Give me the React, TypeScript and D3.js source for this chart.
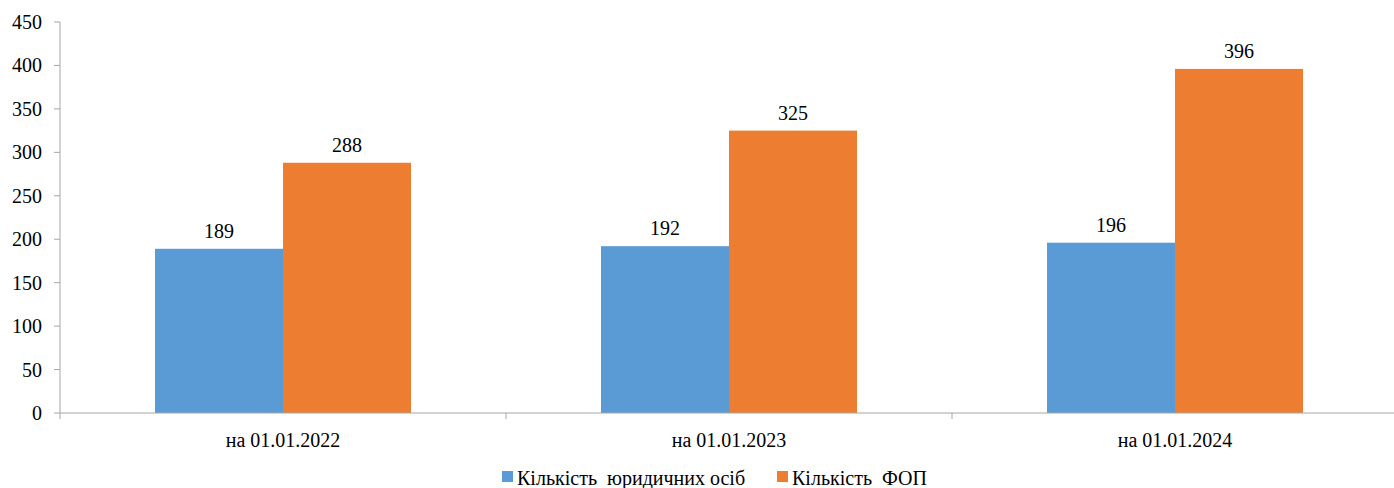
import React from 'react';
import * as d3 from 'd3';

const categories = ['на 01.01.2022', 'на 01.01.2023', 'на 01.01.2024'];
const seriesNames = ['Кількість  юридичних осіб', 'Кількість  ФОП'];
const legalEntities = [189, 192, 196];
const individuals = [288, 325, 396];
const yTicks = [0, 50, 100, 150, 200, 250, 300, 350, 400, 450];
const colors = ['#5B9BD5', '#ED7D31'];

const W = 1394;
const H = 488;
const font = "'Liberation Serif', 'Times New Roman', serif";
const fs = 20;

const App: React.FC = () => {
  const x = d3.scaleBand<string>().domain(categories).range([60, 1398]);
  const y = d3.scaleLinear().domain([0, 450]).range([413, 22]);
  const barW = 128;
  const series = [legalEntities, individuals];
  const axisColor = '#A6A6A6';

  return (
    <svg width={W} height={H} style={{ position: 'absolute', left: 0, top: 0, fontFamily: font }}>
      {/* y axis */}
      <line x1={60} x2={60} y1={y(450)} y2={y(0)} stroke={axisColor} />
      {yTicks.map(t => (
        <g key={t}>
          <line x1={54} x2={60} y1={y(t)} y2={y(t)} stroke={axisColor} />
          <text x={42} y={y(t) + 7} textAnchor="end" style={{ fontFamily: font }} fontSize={fs} fill="#000">{t}</text>
        </g>
      ))}

      {/* bars */}
      {categories.map((c, i) => {
        const cx = (x(c) ?? 0) + x.bandwidth() / 2;
        return series.map((s, j) => {
          const bx = cx - barW + j * barW;
          return (
            <g key={c + j}>
              <rect x={bx} y={y(s[i])} width={barW} height={y(0) - y(s[i])} fill={colors[j]} />
              <text x={bx + barW / 2} y={y(s[i]) - 11} textAnchor="middle" style={{ fontFamily: font }} fontSize={fs} fill="#000">{s[i]}</text>
            </g>
          );
        });
      })}

      {/* x axis */}
      <line x1={60} x2={1398} y1={y(0)} y2={y(0)} stroke={axisColor} />
      {[...categories.map(c => x(c) ?? 0), 1398].map((t, i) => (
        <line key={i} x1={t} x2={t} y1={y(0)} y2={y(0) + 6} stroke={axisColor} />
      ))}
      {categories.map(c => (
        <text key={c} x={(x(c) ?? 0) + x.bandwidth() / 2} y={447} textAnchor="middle" style={{ fontFamily: font }} fontSize={fs} fill="#000">{c}</text>
      ))}

      {/* legend */}
      {seriesNames.map((n, j) => {
        const lx = j === 0 ? 502 : 777;
        return (
          <g key={n}>
            <rect x={lx} y={471} width={11} height={11} fill={colors[j]} />
            <text x={lx + 15} y={485} fontSize={fs} fill="#000" style={{ whiteSpace: 'pre', fontFamily: font }}>{n}</text>
          </g>
        );
      })}
    </svg>
  );
};

export default App;
